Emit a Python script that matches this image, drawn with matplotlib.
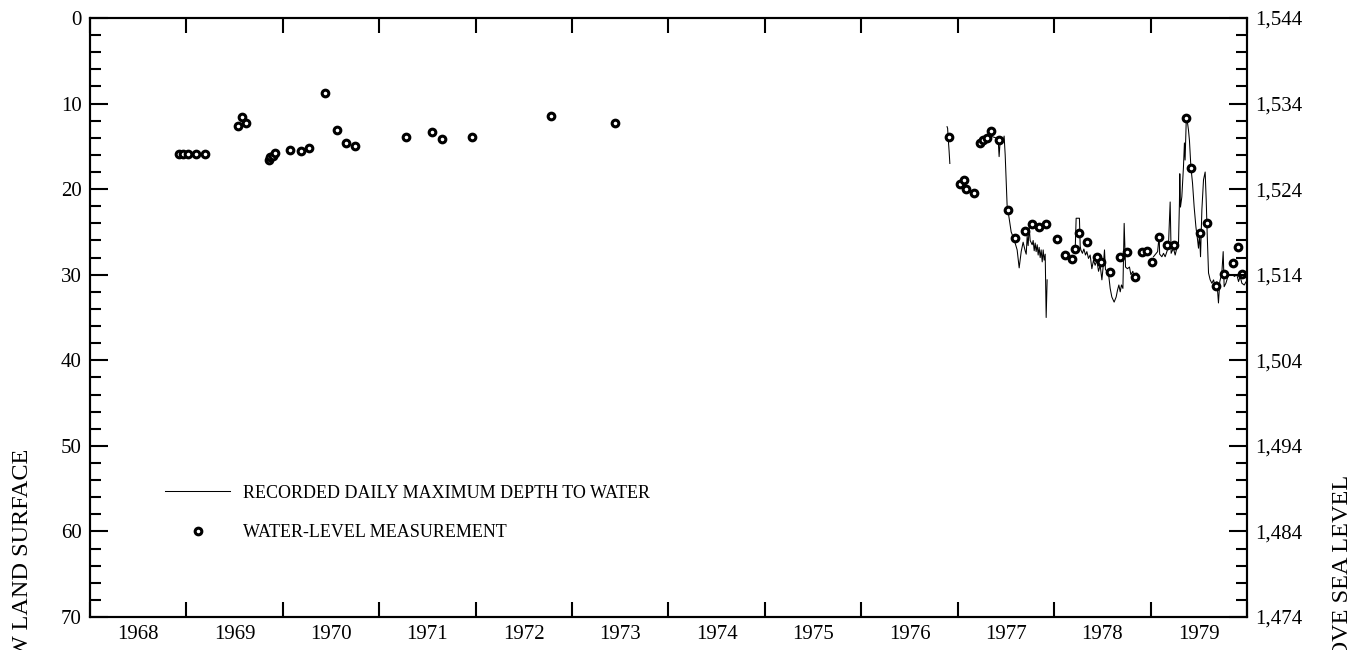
"""
Hydrograph: depth to water in a well, 1968-1979.
Left axis depth below land surface, right axis altitude of the water level.
"""
import matplotlib
matplotlib.use('Agg')
import matplotlib.pyplot as plt
from matplotlib.ticker import MultipleLocator, StrMethodFormatter

plt.rcParams['font.family'] = ['Liberation Serif', 'DejaVu Serif']

# Land surface altitude in feet (depth 0 on the right axis)
land_surface = 1544

# Water-level measurements (decimal year, depth in feet)
meas_year = [1968.92, 1968.96, 1969.02, 1969.10, 1969.19,
             1969.53, 1969.58, 1969.62,
             1969.86, 1969.87, 1969.90, 1969.92,
             1970.07, 1970.19, 1970.27, 1970.44, 1970.56, 1970.66, 1970.75,
             1971.28, 1971.55, 1971.65, 1971.96, 1972.78, 1973.44,
             1976.91, 1977.02, 1977.06, 1977.09, 1977.17,
             1977.23, 1977.26, 1977.30, 1977.35, 1977.43,
             1977.52, 1977.59, 1977.70, 1977.77, 1977.84, 1977.92,
             1978.03, 1978.11, 1978.18, 1978.22, 1978.26, 1978.34,
             1978.44, 1978.49, 1978.58, 1978.68, 1978.76, 1978.84,
             1978.91, 1978.96, 1979.01, 1979.09, 1979.17, 1979.24,
             1979.37, 1979.42, 1979.51, 1979.58, 1979.68, 1979.76,
             1979.85, 1979.91, 1979.95]
meas_depth = [15.86, 15.9, 15.9, 15.86, 15.86,
              12.62, 11.53, 12.27,
              16.6, 16.3, 16.1, 15.8,
              15.4, 15.6, 15.2, 8.73, 13.13, 14.6, 14.96,
              13.95, 13.28, 14.14, 13.87, 11.41, 12.23,
              13.95, 19.4, 18.97, 20.0, 20.4,
              14.57, 14.3, 14.06, 13.17, 14.26,
              22.44, 25.75, 24.9, 24.07, 24.4, 24.1,
              25.83, 27.66, 28.16, 27.0, 25.17, 26.14,
              27.97, 28.47, 29.7, 27.97, 27.4, 30.3,
              27.3, 27.2, 28.47, 25.55, 26.53, 26.53,
              11.72, 17.57, 25.17, 24.0, 31.3, 29.96,
              28.67, 26.8, 29.96]

# Recorder data (daily maximum depth), four pieces with gaps between them
rec_year_1 = [1976.889, 1976.895, 1976.900, 1976.910, 1976.918]
rec_depth_1 = [12.7, 12.9, 13.9, 15.5, 17.0]

rec_year_2 = [1977.315, 1977.367, 1977.419, 1977.429, 1977.440, 1977.471,
              1977.481, 1977.492, 1977.512, 1977.533, 1977.554, 1977.575,
              1977.595, 1977.616, 1977.637, 1977.658, 1977.678, 1977.699,
              1977.710, 1977.720, 1977.730, 1977.741, 1977.751, 1977.772,
              1977.782, 1977.793, 1977.803, 1977.813, 1977.824, 1977.834,
              1977.844, 1977.855, 1977.865, 1977.876, 1977.886, 1977.896,
              1977.907, 1977.917, 1977.927]
rec_depth_2 = [13.7, 13.9, 14.1, 16.2, 14.3, 14.4,
               13.8, 16.0, 21.9, 23.4, 25.0, 25.6,
               26.3, 27.1, 29.2, 27.3, 26.2, 27.2,
               27.6, 25.5, 26.6, 24.4, 26.0, 26.5,
               26.0, 27.2, 26.3, 27.3, 26.5, 27.7,
               26.8, 28.0, 27.1, 28.5, 27.1, 28.3,
               27.6, 35.0, 30.6]

rec_year_3 = [1978.218, 1978.228, 1978.262, 1978.270, 1978.277, 1978.293,
              1978.308, 1978.325, 1978.339, 1978.356, 1978.373, 1978.391,
              1978.408, 1978.425, 1978.443, 1978.460, 1978.477, 1978.495,
              1978.511, 1978.522, 1978.532, 1978.547, 1978.563, 1978.581,
              1978.598, 1978.622, 1978.643, 1978.657, 1978.671, 1978.685,
              1978.698, 1978.713, 1978.726, 1978.740, 1978.760, 1978.781,
              1978.796, 1978.816, 1978.837, 1978.858, 1978.879]
rec_depth_3 = [27.1, 23.4, 23.4, 26.7, 27.1, 27.5,
               27.0, 27.7, 27.3, 28.1, 27.7, 29.3,
               28.3, 28.9, 28.3, 29.6, 28.9, 30.6,
               28.7, 27.1, 29.4, 29.6, 29.8, 31.6,
               32.6, 33.2, 32.6, 31.8, 31.2, 32.0,
               31.2, 31.6, 24.0, 29.1, 29.3, 29.1,
               30.0, 29.6, 30.6, 29.8, 30.6]

rec_year_4 = [1979.030, 1979.073, 1979.089, 1979.094, 1979.117, 1979.134,
              1979.151, 1979.169, 1979.185, 1979.203, 1979.213, 1979.237,
              1979.255, 1979.272, 1979.289, 1979.299, 1979.303, 1979.310,
              1979.324, 1979.341, 1979.351, 1979.358, 1979.369, 1979.379,
              1979.393, 1979.403, 1979.418, 1979.435, 1979.452, 1979.470,
              1979.487, 1979.497, 1979.507, 1979.518, 1979.532, 1979.549,
              1979.566, 1979.577, 1979.587, 1979.601, 1979.618, 1979.636,
              1979.653, 1979.670, 1979.688, 1979.704, 1979.718, 1979.739,
              1979.753, 1979.763, 1979.781, 1979.802, 1979.826, 1979.850,
              1979.870, 1979.895, 1979.912, 1979.929, 1979.947, 1979.971,
              1979.992]
rec_depth_4 = [27.9, 27.3, 25.4, 27.6, 27.9, 27.5,
               27.9, 27.3, 26.7, 21.5, 27.5, 26.9,
               27.7, 26.9, 26.5, 21.7, 18.2, 22.1,
               20.9, 17.4, 14.6, 16.6, 12.3, 11.9,
               13.1, 14.3, 17.4, 19.3, 22.1, 24.4,
               25.9, 26.9, 25.2, 27.9, 22.4, 18.9,
               18.0, 21.3, 25.2, 29.8, 30.6, 31.0,
               30.6, 31.4, 30.8, 33.3, 30.8, 29.8,
               27.3, 31.4, 31.0, 30.2, 30.0, 30.0,
               30.2, 30.0, 30.8, 30.2, 31.0, 31.2,
               30.8]

years = list(range(1968, 1981))
year_labels = [str(y) for y in range(1968, 1980)]
alt_ticks = list(range(land_surface - 70, land_surface + 1, 10))

fig = plt.figure(figsize=(13.7, 6.5), dpi=100)
ax = fig.add_axes([90 / 1370, 33 / 650, 1157 / 1370, 599 / 650])

# recorder line, one piece at a time
ax.plot(rec_year_1, rec_depth_1, color='black', lw=0.75,
        label='RECORDED DAILY MAXIMUM DEPTH TO WATER')
for xs, ys in [(rec_year_2, rec_depth_2), (rec_year_3, rec_depth_3),
               (rec_year_4, rec_depth_4)]:
    ax.plot(xs, ys, color='black', lw=0.75)

ax.plot(meas_year, meas_depth, ls='none', marker='o', ms=4.8, mew=2.2,
        mfc='white', mec='black', label='WATER-LEVEL MEASUREMENT')

# x axis: ticks at year boundaries, labels in the middle of each year
ax.set_xlim(1968, 1980)
ax.set_xticks(years)
ax.set_xticklabels([])
ax.set_xticks([y + 0.5 for y in range(1968, 1980)], minor=True)
ax.set_xticklabels(year_labels, minor=True)
ax.tick_params(axis='x', which='major', direction='in', length=11,
               width=1.5, top=True, bottom=True)
ax.tick_params(axis='x', which='minor', length=0, labelsize=15, pad=6)

# left y axis: depth below land surface
ax.set_ylim(70, 0)
ax.yaxis.set_major_locator(MultipleLocator(10))
ax.yaxis.set_minor_locator(MultipleLocator(2))
ax.tick_params(axis='y', which='major', direction='in', length=12.7,
               width=1.5, labelsize=15, pad=6)
ax.tick_params(axis='y', which='minor', direction='in', length=7.7,
               width=1.5)

for sp in ax.spines.values():
    sp.set_linewidth(1.5)

# right y axis: altitude of water level
ax2 = ax.twinx()
ax2.set_ylim(land_surface - 70, land_surface)
ax2.set_yticks(alt_ticks)
ax2.set_yticks(list(range(land_surface - 70, land_surface + 1, 2)),
               minor=True)
ax2.yaxis.set_major_formatter(StrMethodFormatter('{x:,.0f}'))
ax2.tick_params(axis='y', which='major', direction='in', length=12.7,
                width=1.5, labelsize=15, pad=6)
ax2.tick_params(axis='y', which='minor', direction='in', length=7.7,
                width=1.5)
for sp in ax2.spines.values():
    sp.set_linewidth(1.5)

ax.legend(loc='upper left', bbox_to_anchor=(0.065, 0.221), frameon=False,
          fontsize=13, handlelength=3.6, handletextpad=0.7,
          labelspacing=1.23, borderpad=0, borderaxespad=0)

# axis titles (only part of them falls inside the picture)
fig.text(23 / 1370, 1 - 449 / 650,
         'DEPTH TO WATER, IN FEET BELOW LAND SURFACE',
         rotation=90, ha='center', va='top', fontsize=17.5)
fig.text(1343 / 1370, 1 - 475 / 650,
         'ALTITUDE OF WATER LEVEL, IN FEET ABOVE SEA LEVEL',
         rotation=90, ha='center', va='top', fontsize=17.5)

fig.savefig('out.png', dpi=100, facecolor='white')
